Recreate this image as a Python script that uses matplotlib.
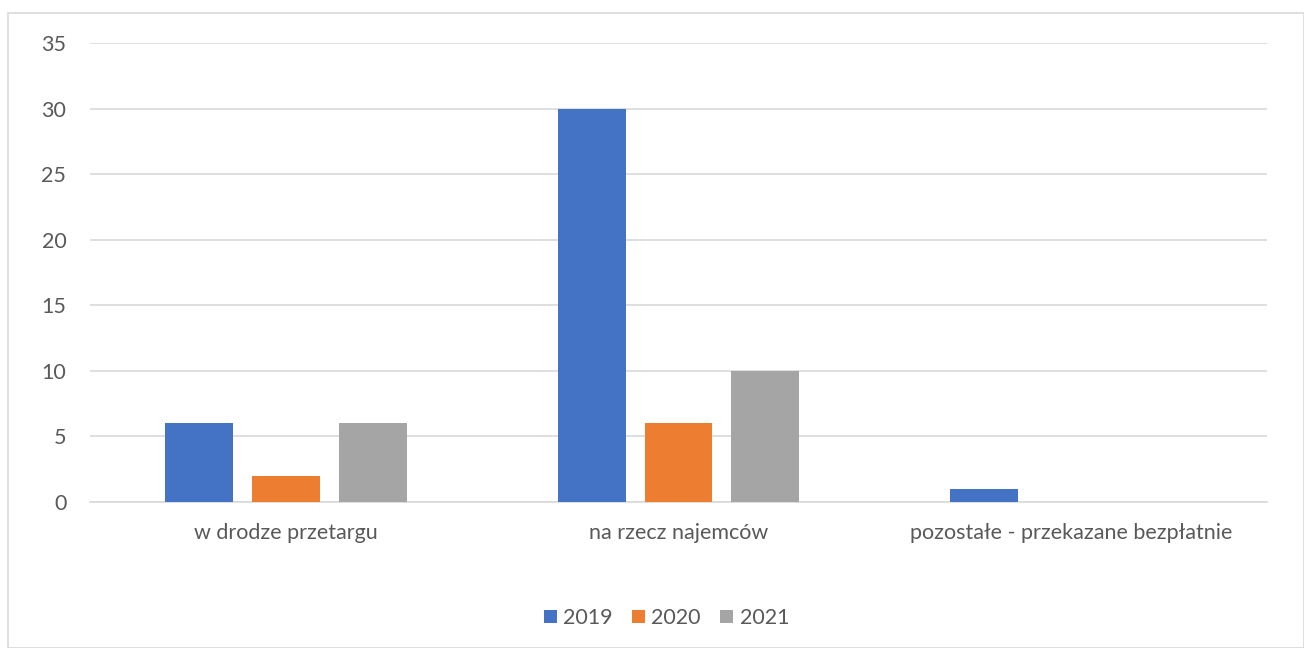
import numpy as np
import matplotlib.pyplot as plt
from matplotlib.patches import Rectangle

categories = ['w drodze przetargu', 'na rzecz najemców', 'pozostałe - przekazane bezpłatnie']
years = ['2019', '2020', '2021']
values_2019 = [6, 30, 1]
values_2020 = [2, 6, 0]
values_2021 = [6, 10, 0]
colors = ['#4472C4', '#ED7D31', '#A5A5A5']

plt.rcParams['font.family'] = ['Lato', 'DejaVu Sans']
text_color = '#595959'
fs = 15.5

fig = plt.figure(figsize=(13.04, 6.48), dpi=100)
ax = fig.add_axes([0.069, 0.2253, 0.9026, 0.7083])

x = np.arange(len(categories))
width = 0.173
step = 0.221
series = [values_2019, values_2020, values_2021]
for i, (vals, yr, c) in enumerate(zip(series, years, colors)):
    ax.bar(x + (i - 1) * step, vals, width, color=c, label=yr, zorder=3)

ax.set_xlim(-0.5, 2.5)
ax.set_ylim(0, 35)
ax.set_yticks(range(0, 36, 5))
ax.yaxis.grid(True, color='#D9D9D9', linewidth=1.2, zorder=0)
ax.set_xticks(x)
ax.set_xticklabels(categories)
ax.tick_params(axis='both', length=0, labelsize=fs, labelcolor=text_color)
ax.tick_params(axis='x', pad=15)
ax.tick_params(axis='y', pad=17)
for s in ['top', 'right', 'left']:
    ax.spines[s].set_visible(False)
ax.spines['bottom'].set_color('#D9D9D9')
ax.spines['bottom'].set_linewidth(1.2)

leg = fig.legend(loc='center', bbox_to_anchor=(0.511, 0.046), ncol=3, frameon=False,
                 fontsize=fs, handlelength=0.6, handleheight=0.6, handletextpad=0.3,
                 columnspacing=0.9)
for t in leg.get_texts():
    t.set_color(text_color)

fig.patches.append(Rectangle((8 / 1304, 0), 1 - 8 / 1304 - 0.5 / 1304, 1 - 13 / 648,
                             transform=fig.transFigure, fill=False,
                             edgecolor='#D9D9D9', linewidth=1.2))

fig.savefig('out.png', dpi=100)
